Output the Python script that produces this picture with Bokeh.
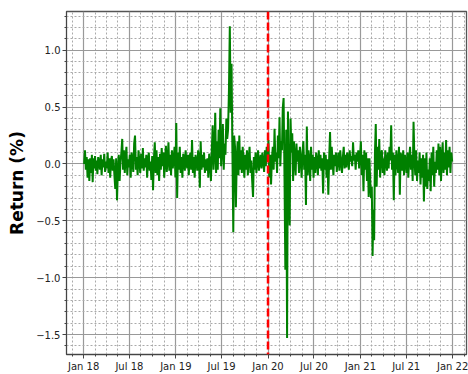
import pandas as pd
from bokeh.plotting import figure
from bokeh.models import FixedTicker, Span, DatetimeTickFormatter, CustomJSTickFormatter, Range1d
from bokeh.embed import file_html
from bokeh.resources import INLINE

# Daily-ish returns (%)
r2018 = [
    [0.0, 0.12, -0.05, 0.06, -0.12, 0.04, -0.15, 0.05, -0.08],
    [0.08, -0.16, 0.05, -0.04, 0.07, -0.06, 0.03, -0.09, 0.06],
    [0.02, -0.05, 0.08, -0.10, 0.04, -0.03, 0.09, -0.07, 0.02],
    [-0.04, 0.10, -0.08, 0.05, -0.12, 0.03, 0.07, -0.06, 0.04],
    [-0.10, -0.22, 0.05, -0.32, -0.05, 0.08, -0.15, 0.02, 0.10],
    [0.22, -0.05, 0.12, -0.08, 0.06, 0.15, -0.10, 0.04, -0.03],
    [0.08, -0.12, 0.10, 0.03, -0.07, 0.18, 0.25, -0.05, 0.06],
    [-0.10, 0.12, 0.02, -0.08, 0.09, -0.04, 0.14, -0.06, 0.05],
    [-0.03, 0.08, -0.12, 0.04, 0.10, -0.06, 0.02, -0.14, 0.07],
    [-0.23, 0.05, 0.19, -0.08, 0.12, -0.10, 0.06, -0.15, 0.09],
    [-0.05, 0.14, -0.02, 0.10, -0.12, 0.05, 0.16, -0.07, 0.03],
    [0.19, -0.06, 0.08, -0.10, 0.12, -0.04, 0.05, 0.15, -0.12],
]
r2019 = [
    [0.36, -0.30, 0.10, -0.05, 0.15, -0.08, 0.06, -0.12, 0.09],
    [0.04, -0.06, 0.12, 0.02, -0.04, 0.08, -0.10, 0.05, 0.10],
    [-0.05, 0.21, -0.08, 0.06, -0.12, 0.08, 0.03, -0.06, 0.12],
    [0.04, -0.21, 0.20, -0.05, 0.08, -0.03, 0.10, -0.08, 0.04],
    [-0.06, 0.05, -0.12, 0.09, 0.02, -0.15, 0.12, 0.34, -0.05],
    [0.10, 0.45, -0.08, 0.20, -0.05, 0.30, 0.05, 0.49, -0.02],
    [0.12, 0.35, -0.05, 0.18, 0.08, 0.40, 0.22, 0.30, 0.65],
    [1.21, 0.45, 0.88, 0.10, -0.60, 0.25, 0.15, -0.38, 0.05],
    [0.20, -0.10, 0.25, -0.05, 0.12, -0.08, 0.15, 0.02, -0.12],
    [0.08, -0.05, 0.12, -0.10, 0.05, 0.15, -0.08, 0.03, -0.15],
    [-0.29, 0.06, -0.05, 0.10, -0.08, 0.04, 0.12, -0.06, 0.02],
    [0.08, -0.04, 0.10, 0.03, -0.07, 0.12, -0.02, 0.15, 0.05],
]
r2020 = [
    [0.21, -0.12, 0.08, -0.18, 0.05, 0.15, -0.05, 0.31, 0.02],
    [0.10, -0.08, 0.25, 0.05, 0.41, -0.02, 0.20, 0.12, 0.49],
    [0.58, -0.10, -0.93, 0.30, -1.53, 0.46, -0.20, -0.54, 0.40],
    [0.10, 0.27, -0.15, 0.20, 0.05, -0.10, 0.18, 0.02, 0.12],
    [-0.08, 0.15, 0.05, -0.12, 0.10, 0.20, -0.05, 0.08, -0.36],
    [0.33, -0.10, 0.12, 0.02, -0.15, 0.15, -0.05, 0.08, -0.12],
    [0.06, -0.08, 0.10, 0.03, -0.10, 0.12, -0.04, 0.08, -0.06],
    [0.05, -0.26, 0.10, -0.05, 0.08, -0.12, 0.04, -0.27, 0.06],
    [0.28, -0.05, 0.15, 0.02, -0.10, 0.08, -0.02, 0.10, -0.07],
    [0.04, 0.10, -0.06, 0.12, 0.02, -0.08, 0.06, 0.15, -0.04],
    [0.08, -0.03, 0.10, 0.05, -0.05, 0.12, 0.02, 0.07, -0.02],
    [0.19, 0.03, 0.08, -0.05, 0.10, 0.02, 0.12, -0.04, 0.06],
]
r2021 = [
    [0.20, -0.10, 0.08, -0.24, 0.12, -0.05, 0.10, -0.15, 0.05],
    [-0.29, 0.05, -0.15, -0.30, -0.20, -0.81, -0.40, -0.67, 0.10],
    [0.35, -0.20, 0.15, -0.05, 0.22, -0.12, 0.08, 0.12, -0.08],
    [0.05, -0.10, 0.12, 0.02, -0.06, 0.10, -0.04, 0.15, 0.03],
    [0.34, -0.05, 0.10, -0.32, 0.08, -0.10, 0.12, 0.02, -0.08],
    [0.15, -0.27, 0.10, 0.05, -0.06, 0.12, -0.10, 0.08, 0.02],
    [-0.08, 0.10, -0.12, 0.05, 0.15, -0.05, 0.08, -0.15, 0.37],
    [0.05, -0.10, 0.12, -0.15, 0.03, -0.08, 0.10, -0.18, 0.05],
    [-0.12, 0.08, -0.33, 0.05, -0.20, 0.10, -0.22, -0.05, -0.15],
    [0.05, -0.24, 0.10, -0.10, 0.15, -0.20, 0.02, -0.08, 0.12],
    [-0.05, 0.18, -0.10, 0.15, -0.15, 0.05, 0.19, -0.08, 0.10],
    [-0.05, 0.21, -0.10, 0.12, -0.03, 0.15, -0.08, 0.10, 0.02],
]
event_date = "2020-01-01"
y_ticks = [-1.5, -1.0, -0.5, 0.0, 0.5, 1.0]

months = r2018 + r2019 + r2020 + r2021
month_starts = pd.date_range("2018-01-01", periods=len(months) + 1, freq="MS")
dates, values = [], []
for i, mv in enumerate(months):
    a, b = month_starts[i], month_starts[i + 1]
    n = len(mv)
    for k, v in enumerate(mv):
        dates.append(a + (b - a) * (k + 0.5) / n)
        values.append(v)

def ms(t):
    return pd.Timestamp(t).timestamp() * 1000.0

p = figure(width=468, height=374, x_axis_type="datetime", output_backend="svg",
           toolbar_location=None,
           x_range=Range1d(ms("2017-10-25"), ms("2022-02-25")),
           y_range=Range1d(-1.675, 1.34),
           min_border_left=66, min_border_right=2, min_border_top=11, min_border_bottom=19)
p.background_fill_color = "white"
p.border_fill_color = "white"
p.outline_line_color = "#555555"
p.outline_line_width = 1.3

# ticks
majors = pd.date_range("2017-07-01", "2022-07-01", freq="6MS")
major_ms = [ms(t) for t in majors]
minor_ms = []
for a, b in zip(major_ms[:-1], major_ms[1:]):
    for j in range(1, 4):
        minor_ms.append(a + (b - a) * j / 4)
p.xaxis.ticker = FixedTicker(ticks=major_ms, minor_ticks=minor_ms)
fmt = "%b %y"
p.xaxis.formatter = DatetimeTickFormatter(months=fmt, days=fmt, years=fmt, hours=fmt)

yminor = [round(-1.7 + 0.1 * i, 2) for i in range(32)]
p.yaxis.ticker = FixedTicker(ticks=y_ticks, minor_ticks=yminor)
p.yaxis.formatter = CustomJSTickFormatter(code="return tick.toFixed(1).replace('-', '\u2212');")

for ax in (p.xaxis[0], p.yaxis[0]):
    ax.major_tick_out = 4
    ax.major_tick_in = 0
    ax.minor_tick_out = 2
    ax.minor_tick_in = 0
    ax.axis_line_color = "#444444"
    ax.major_tick_line_color = "#444444"
    ax.minor_tick_line_color = "#444444"
    ax.major_label_text_font = "DejaVu Sans"
    ax.major_label_text_font_size = "10px"
    ax.major_label_text_color = "#222222"
    ax.major_label_standoff = 2

p.yaxis.axis_label = "Return (%)"
p.yaxis.axis_label_text_font = "DejaVu Sans"
p.yaxis.axis_label_text_font_style = "bold"
p.yaxis.axis_label_text_font_size = "17px"
p.yaxis.axis_label_text_color = "black"
p.yaxis.axis_label_standoff = 6

for g in (p.xgrid[0], p.ygrid[0]):
    g.grid_line_color = "#999999"
    g.grid_line_width = 1.2
    g.minor_grid_line_color = "#aaaaaa"
    g.minor_grid_line_dash = "2 2"
    g.minor_grid_line_width = 1

p.line(dates, values, line_color="green", line_width=2)

p.add_layout(Span(location=ms(event_date), dimension="height", line_color="red",
                  line_width=2.5, line_dash="8 3"))

open("out.html", "w").write(file_html(p, INLINE))
